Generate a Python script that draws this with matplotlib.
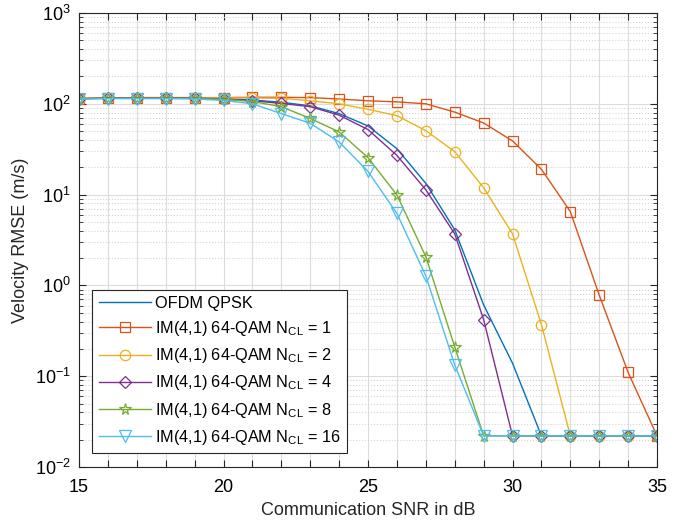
import numpy as np
import matplotlib
matplotlib.use('Agg')
import matplotlib.pyplot as plt
from matplotlib.ticker import LogLocator, MultipleLocator, FuncFormatter

plt.rcParams['font.family'] = 'Liberation Sans'
plt.rcParams['mathtext.fontset'] = 'custom'
plt.rcParams['mathtext.rm'] = 'Liberation Sans'
plt.rcParams['mathtext.it'] = 'Liberation Sans:italic'

snr = np.arange(15, 36)

# values
ofdm_qpsk = [114, 115, 115, 115, 115, 114, 110, 104, 95, 78, 57, 32, 13.3, 4.1, 0.61, 0.139,
             0.022, 0.022, 0.022, 0.022, 0.022]
ncl1 = [114, 116, 117, 117, 117, 117, 118, 118, 117, 113, 108, 105, 100, 81, 61.5, 39, 19, 6.5,
        0.78, 0.11, 0.022]
ncl2 = [114, 116, 117, 117, 117, 116, 116, 115, 108, 100, 87, 74, 50.6, 29.7, 11.9, 3.7, 0.37,
        0.022, 0.022, 0.022, 0.022]
ncl4 = [114, 116, 116, 116, 116, 113, 108, 101, 93, 75, 52, 27, 11.3, 3.7, 0.42, 0.022,
        0.022, 0.022, 0.022, 0.022, 0.022]
ncl8 = [114, 115, 115, 115, 115, 112, 106, 93, 69, 49, 25.5, 9.9, 2.07, 0.21, 0.022, 0.022,
        0.022, 0.022, 0.022, 0.022, 0.022]
ncl16 = [113, 114, 114, 114, 113, 109, 100, 78, 61, 38, 18, 6.2, 1.27, 0.133, 0.022, 0.022,
         0.022, 0.022, 0.022, 0.022, 0.022]

labels = ['OFDM QPSK',
          r'IM(4,1) 64-QAM N$_{\mathregular{CL}}$ = 1',
          r'IM(4,1) 64-QAM N$_{\mathregular{CL}}$ = 2',
          r'IM(4,1) 64-QAM N$_{\mathregular{CL}}$ = 4',
          r'IM(4,1) 64-QAM N$_{\mathregular{CL}}$ = 8',
          r'IM(4,1) 64-QAM N$_{\mathregular{CL}}$ = 16']

colors = ['#0072BD', '#D95319', '#EDB120', '#7E2F8E', '#77AC30', '#4DBEEE']
markers = [None, 's', 'o', 'D', '*', 'v']
sizes = [0, 7, 7.5, 6.5, 8.5, 8]
series = [ofdm_qpsk, ncl1, ncl2, ncl4, ncl8, ncl16]

fig = plt.figure(figsize=(6.89, 5.27), dpi=100)
ax = fig.add_axes([0.1147, 0.1139, 0.8389, 0.8614])

for y, c, m, ms, lab in zip(series, colors, markers, sizes, labels):
    ax.semilogy(snr, y, color=c, marker=m, markersize=ms, markerfacecolor='none',
                markeredgewidth=0.9, linewidth=1.0, label=lab)

ax.set_xlim(15, 35)
ax.set_ylim(1e-2, 1e3)
ax.xaxis.set_major_locator(MultipleLocator(1))
ax.xaxis.set_major_formatter(FuncFormatter(lambda v, p: f'{int(v)}' if int(round(v)) % 5 == 0 else ''))
ax.yaxis.set_major_locator(LogLocator(base=10, numticks=10))
ax.yaxis.set_minor_locator(LogLocator(base=10, subs=np.arange(2, 10), numticks=20))

ax.grid(True, which='major', color='#dcdcdc', linestyle='-', linewidth=0.8)
ax.grid(True, which='minor', axis='y', color='#d4d4d4', linestyle=':', linewidth=0.8)
ax.set_axisbelow(True)

ax.tick_params(which='both', direction='in', top=True, right=True, labelsize=13, color='#262626')
ax.tick_params(which='major', length=5)
ax.tick_params(which='minor', length=3)
ax.tick_params(axis='x', pad=9)
ax.tick_params(axis='y', pad=6)
for s in ax.spines.values():
    s.set_color('#262626')
    s.set_linewidth(0.8)

ax.set_xlabel('Communication SNR in dB', fontsize=13, color='#262626', labelpad=4)
ax.set_ylabel('Velocity RMSE (m/s)', fontsize=13, color='#262626', labelpad=4)

leg = ax.legend(loc='lower left', bbox_to_anchor=(0.0225, 0.0305), fontsize=11.7, handlelength=3.2,
                fancybox=False, framealpha=1, edgecolor='#262626', borderpad=0.4,
                labelspacing=0.5, handletextpad=0.25, borderaxespad=0)
leg.get_frame().set_linewidth(0.8)

fig.savefig('out.png', dpi=100)
